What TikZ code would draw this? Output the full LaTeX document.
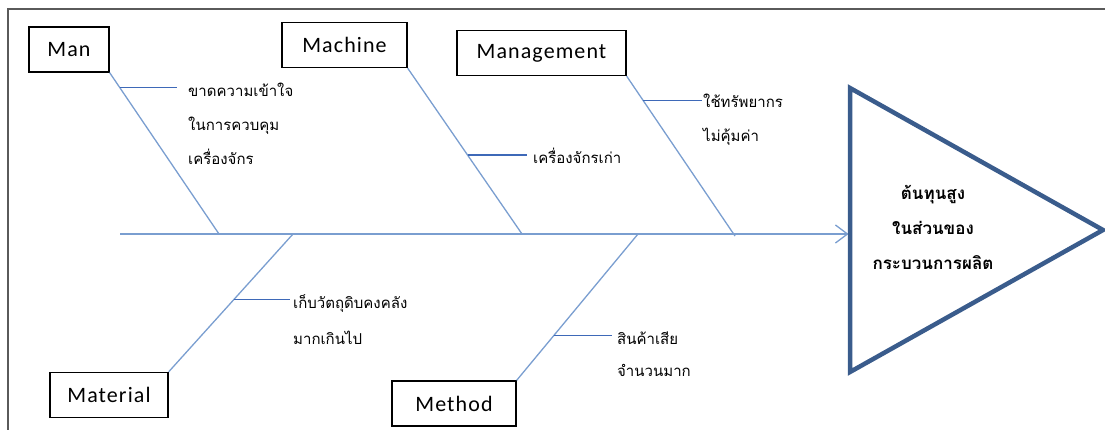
\documentclass[tikz,border=0pt]{standalone}
\usepackage{fontspec}
\usepackage{xcolor}
\usepackage{tikz}
\usetikzlibrary{arrows.meta,calc,positioning}
\newfontfamily\thaifont[Script=Thai]{Loma}
\newfontfamily\boxfont[LetterSpace=5]{Carlito}
\definecolor{bonecol}{RGB}{122,158,208}
\definecolor{twigcol}{RGB}{62,105,184}
\definecolor{headcol}{RGB}{58,92,140}
\definecolor{framecol}{RGB}{90,90,90}
\tikzset{
    catbox/.style={draw=black, line width=1.3pt, minimum height=45pt, inner sep=0pt, font=\boxfont\fontsize{22}{26}\selectfont},
    bone/.style={draw=bonecol, line width=1.3pt},
    twig/.style={draw=twigcol, line width=1.2pt},
    cause/.style={align=left, inner sep=0pt, font=\thaifont\fontsize{15}{34}\selectfont},
}

\begin{document}
\begin{tikzpicture}[x=1pt, y=-1pt]
    \useasboundingbox (0, 0) rectangle (1105, 430);
    \draw[framecol, line width=1.2pt] (8, 9) rectangle (1125, 450);
    \node[catbox, minimum width=80pt] (man) at (69, 49.5) {Man};
    \node[catbox, minimum width=125pt] (machine) at (344.5, 45) {Machine};
    \node[catbox, minimum width=169pt] (management) at (541.5, 53) {Management};
    \node[catbox, minimum width=118pt] (material) at (109, 395) {Material};
    \node[catbox, minimum width=124pt] (method) at (454, 403.5) {Method};
    \coordinate (tail) at (120, 234);
    \coordinate (base) at (850, 234);
    \coordinate (man-j) at (219, 234);
    \coordinate (machine-j) at (522, 234);
    \coordinate (management-j) at (735, 236);
    \coordinate (material-j) at (293, 234);
    \coordinate (method-j) at (638, 234);
    \draw[bone, -{Straight Barb[length=12pt, width=18pt]}, shorten >=1.5pt] (tail) -- (base);
    \draw[headcol, line width=4.5pt, line join=miter] (850, 88) -- (1103, 230) -- (850, 372) -- cycle;
    \node[align=center, inner sep=0pt, font=\thaifont\bfseries\fontsize{17}{35}\selectfont] (effect) at (933, 227) {ต้นทุนสูง\\ในส่วนของ\\กระบวนการผลิต};
    \draw[bone] (man.south east) -- (man-j);
    \draw[bone] (machine.south east) -- (machine-j);
    \draw[bone] (management.south east) -- (management-j);
    \draw[bone] (material.north east) -- (material-j);
    \draw[bone] (method.north east) -- (method-j);
    \node[cause, anchor=base west] (man-t) at (188, 165) {ขาดความเข้าใจ\\ในการควบคุม\\เครื่องจักร};
    \node[cause, anchor=base west] (machine-t) at (533, 164) {เครื่องจักรเก่า};
    \node[cause, anchor=base west] (management-t) at (703, 142) {ใช้ทรัพยากร\\ไม่คุ้มค่า};
    \node[cause, anchor=base west, font=\thaifont\fontsize{15}{36}\selectfont] (material-t) at (293, 344) {เก็บวัตถุดิบคงคลัง\\มากเกินไป};
    \node[cause, anchor=base west, font=\thaifont\fontsize{15}{32}\selectfont] (method-t) at (617, 376) {สินค้าเสีย\\จำนวนมาก};
    \coordinate (man-c) at ($(man.south east)!0.093!(man-j)$);
    \coordinate (machine-c) at ($(machine.south east)!0.524!(machine-j)$);
    \coordinate (management-c) at ($(management.south east)!0.15!(management-j)$);
    \coordinate (material-c) at ($(material.north east)!0.522!(material-j)$);
    \coordinate (method-c) at ($(method.north east)!0.308!(method-j)$);
    \draw[twig, shorten >=11pt] (man-c) -- (man-c -| man-t.west);
    \draw[twig, shorten >=6pt] (machine-c) -- (machine-c -| machine-t.west);
    \draw[twig, shorten >=1pt] (management-c) -- (management-c -| management-t.west);
    \draw[twig, shorten >=3pt] (material-c) -- (material-c -| material-t.west);
    \draw[twig, shorten >=5pt] (method-c) -- (method-c -| method-t.west);
\end{tikzpicture}
\end{document}
